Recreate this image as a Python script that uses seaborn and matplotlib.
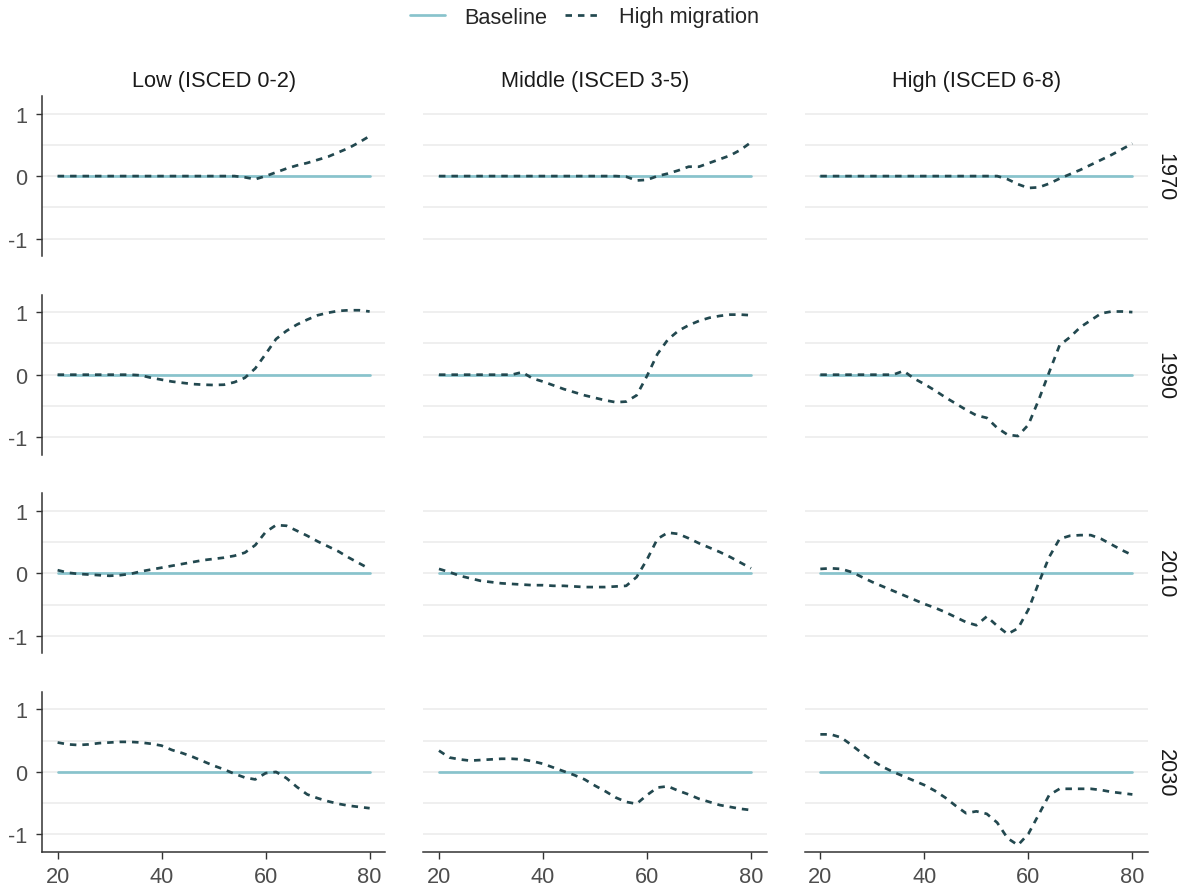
import pandas as pd
import matplotlib
matplotlib.use("Agg")
import matplotlib.pyplot as plt
from matplotlib.lines import Line2D
from matplotlib.ticker import FixedLocator
import seaborn as sns

# ---- data -----------------------------------------------------------------
ages = [20, 22, 24, 26, 28, 30, 32, 34, 36, 38, 40, 42, 44, 46, 48, 50,
        52, 54, 56, 58, 60, 62, 64, 66, 68, 70, 72, 74, 76, 78, 80]

education_levels = ["Low (ISCED 0-2)", "Middle (ISCED 3-5)", "High (ISCED 6-8)"]
cohorts = ["1970", "1990", "2010", "2030"]
scenarios = ["Baseline", "High migration"]

baseline_values = [0.0] * len(ages)

low_1970 = [0, 0, 0, 0, 0, 0, 0, 0, 0, 0, 0, 0, 0, 0, 0, 0, 0, 0,
            -0.02, -0.05, 0.0, 0.06, 0.12, 0.17, 0.21, 0.26, 0.31, 0.38, 0.45, 0.54, 0.64]
middle_1970 = [0, 0, 0, 0, 0, 0, 0, 0, 0, 0, 0, 0, 0, 0, 0, 0, 0, 0,
               -0.01, -0.07, -0.06, 0.0, 0.04, 0.09, 0.15, 0.15, 0.21, 0.27, 0.33, 0.42, 0.54]
high_1970 = [0, 0, 0, 0, 0, 0, 0, 0, 0, 0, 0, 0, 0, 0, 0, 0, 0, 0,
             -0.05, -0.13, -0.19, -0.18, -0.12, -0.04, 0.03, 0.1, 0.18, 0.26, 0.34, 0.43, 0.52]

low_1990 = [0, 0, 0, 0, 0, 0, 0, 0,
            -0.01, -0.05, -0.08, -0.11, -0.13, -0.15, -0.16, -0.165, -0.16, -0.12, -0.05,
            0.1, 0.33, 0.57, 0.7, 0.8, 0.88, 0.95, 0.99, 1.02, 1.03, 1.03, 1.01]
middle_1990 = [0, 0, 0, 0, 0, 0, 0, 0,
               0.04, -0.06, -0.11, -0.17, -0.23, -0.28, -0.33, -0.37, -0.41, -0.44, -0.43,
               -0.33, -0.02, 0.33, 0.56, 0.7, 0.79, 0.86, 0.91, 0.94, 0.96, 0.96, 0.95]
high_1990 = [0, 0, 0, 0, 0, 0, 0, 0,
             0.06, -0.06, -0.15, -0.25, -0.36, -0.46, -0.56, -0.65, -0.69, -0.85, -0.96,
             -0.98, -0.8, -0.4, 0.04, 0.47, 0.6, 0.76, 0.87, 0.98, 1.01, 1.01, 1.0]

low_2010 = [0.05, 0.01, -0.01, -0.02, -0.03, -0.04, -0.03, -0.01, 0.03, 0.06, 0.09,
            0.12, 0.15, 0.18, 0.21, 0.23, 0.25, 0.28, 0.33, 0.45, 0.66, 0.77, 0.76,
            0.68, 0.6, 0.51, 0.43, 0.35, 0.25, 0.16, 0.07]
middle_2010 = [0.07, 0.02, -0.04, -0.08, -0.12, -0.14, -0.16, -0.17, -0.18, -0.19, -0.19,
               -0.2, -0.2, -0.21, -0.22, -0.22, -0.22, -0.21, -0.2, -0.06, 0.22, 0.55,
               0.65, 0.63, 0.56, 0.48, 0.41, 0.34, 0.26, 0.17, 0.08]
high_2010 = [0.07, 0.08, 0.07, 0.02, -0.06, -0.14, -0.21, -0.28, -0.35, -0.42, -0.49,
             -0.55, -0.62, -0.7, -0.78, -0.83, -0.69, -0.84, -0.97, -0.88, -0.58, -0.15,
             0.26, 0.55, 0.6, 0.61, 0.61, 0.55, 0.46, 0.37, 0.29]

low_2030 = [0.47, 0.44, 0.43, 0.44, 0.46, 0.47, 0.48, 0.48, 0.47, 0.45, 0.42,
            0.35, 0.3, 0.24, 0.17, 0.1, 0.04, -0.03, -0.09, -0.12, -0.02, 0.0,
            -0.1, -0.24, -0.36, -0.42, -0.47, -0.51, -0.54, -0.56, -0.58]
middle_2030 = [0.34, 0.23, 0.2, 0.18, 0.19, 0.2, 0.21, 0.21, 0.2, 0.17, 0.13,
               0.07, 0.01, -0.05, -0.12, -0.22, -0.31, -0.41, -0.48, -0.51, -0.37,
               -0.25, -0.23, -0.3, -0.36, -0.43, -0.48, -0.53, -0.56, -0.59, -0.61]
high_2030 = [0.6, 0.6, 0.55, 0.43, 0.3, 0.18, 0.08, 0.0, -0.07, -0.14, -0.21,
             -0.3, -0.41, -0.54, -0.66, -0.63, -0.67, -0.81, -1.06, -1.17, -0.99,
             -0.68, -0.37, -0.27, -0.27, -0.27, -0.27, -0.29, -0.32, -0.34, -0.36]

high_migration = {
    ("1970", "Low (ISCED 0-2)"): low_1970,
    ("1970", "Middle (ISCED 3-5)"): middle_1970,
    ("1970", "High (ISCED 6-8)"): high_1970,
    ("1990", "Low (ISCED 0-2)"): low_1990,
    ("1990", "Middle (ISCED 3-5)"): middle_1990,
    ("1990", "High (ISCED 6-8)"): high_1990,
    ("2010", "Low (ISCED 0-2)"): low_2010,
    ("2010", "Middle (ISCED 3-5)"): middle_2010,
    ("2010", "High (ISCED 6-8)"): high_2010,
    ("2030", "Low (ISCED 0-2)"): low_2030,
    ("2030", "Middle (ISCED 3-5)"): middle_2030,
    ("2030", "High (ISCED 6-8)"): high_2030,
}

rows = []
for (cohort, edu), series in high_migration.items():
    for age, base, hm in zip(ages, baseline_values, series):
        rows.append({"cohort": cohort, "education": edu, "age": age,
                     "scenario": "Baseline", "value": base})
        rows.append({"cohort": cohort, "education": edu, "age": age,
                     "scenario": "High migration", "value": hm})
df = pd.DataFrame(rows)

# ---- style ----------------------------------------------------------------
BASE_COLOR = "#88c3cc"
HM_COLOR = "#22484f"
GRID_COLOR = "#ebebeb"
AXIS_COLOR = "#333333"
FS = 15.7
LW = 1.95
HM_DASH = (2.4, 2.2)

sns.set_theme(style="white")
plt.rcParams["font.family"] = ["Liberation Sans", "DejaVu Sans"]
plt.rcParams["axes.titlepad"] = 7

g = sns.relplot(
    data=df, x="age", y="value",
    hue="scenario", style="scenario",
    hue_order=scenarios, style_order=scenarios,
    row="cohort", col="education",
    row_order=cohorts, col_order=education_levels,
    palette={"Baseline": BASE_COLOR, "High migration": HM_COLOR},
    dashes={"Baseline": "", "High migration": HM_DASH},
    kind="line", errorbar=None, linewidth=LW,
    height=1.6, aspect=2.144, legend=False,
    facet_kws=dict(margin_titles=True, sharex=True, sharey=True, despine=False),
)

g.set_axis_labels("", "")
g.set_titles(row_template="{row_name}", col_template="{col_name}",
             size=FS, color="#1a1a1a")

fig = g.figure
fig.set_size_inches(11.84, 8.87)
fig.subplots_adjust(left=42 / 1184, right=1148 / 1184,
                    top=1 - 97 / 887, bottom=1 - 853 / 887,
                    wspace=0.111, hspace=0.24)

n_rows, n_cols = g.axes.shape
for i in range(n_rows):
    for j in range(n_cols):
        ax = g.axes[i, j]
        ax.set_xlim(17, 83)
        ax.set_ylim(-1.28, 1.28)
        ax.xaxis.set_major_locator(FixedLocator([20, 40, 60, 80]))
        ax.yaxis.set_major_locator(FixedLocator([-1, 0, 1]))
        ax.yaxis.set_minor_locator(FixedLocator([-0.5, 0.5]))
        ax.set_yticklabels(["-1", "0", "1"])
        ax.set_axisbelow(True)
        ax.grid(False)
        ax.grid(axis="y", which="both", color=GRID_COLOR, linewidth=1.1)
        ax.set_facecolor("white")

        for line in ax.lines:
            if line.get_linestyle() not in ("-", "solid"):
                line.set_zorder(3)
            else:
                line.set_zorder(2)

        for side in ("top", "right"):
            ax.spines[side].set_visible(False)

        left = (j == 0)
        bottom = (i == n_rows - 1)
        ax.spines["left"].set_visible(left)
        ax.spines["left"].set_color(AXIS_COLOR)
        ax.spines["left"].set_linewidth(1.1)
        ax.spines["bottom"].set_visible(bottom)
        ax.spines["bottom"].set_color(AXIS_COLOR)
        ax.spines["bottom"].set_linewidth(1.1)

        ax.tick_params(axis="y", which="major", left=left, labelleft=left,
                       length=4.5, width=1.0, color=AXIS_COLOR,
                       labelsize=FS, labelcolor="#4d4d4d", pad=6)
        ax.tick_params(axis="y", which="minor", left=False, length=0)
        ax.tick_params(axis="x", which="major", bottom=bottom, labelbottom=bottom,
                       length=5, width=1.0, color=AXIS_COLOR,
                       labelsize=FS, labelcolor="#4d4d4d", pad=5)

handles = [
    Line2D([], [], color=BASE_COLOR, linewidth=LW),
    Line2D([], [], color=HM_COLOR, linewidth=LW, dashes=HM_DASH),
]
fig.legend(handles, scenarios, loc="center",
           bbox_to_anchor=(584.5 / 1184, 1 - 18 / 887),
           ncol=2, frameon=False, fontsize=FS,
           handlelength=1.6, handletextpad=0.9, columnspacing=0.8)

fig.savefig("out.png", dpi=100)
